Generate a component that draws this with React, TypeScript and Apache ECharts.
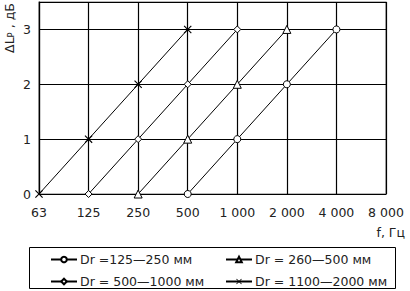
import React, { useEffect, useRef } from "react";
import * as echarts from "echarts";

const categories = ["63", "125", "250", "500", "1 000", "2 000", "4 000", "8 000"];
const s125_250 = [null, null, null, 0, 1, 2, 3, null];
const s260_500 = [null, null, 0, 1, 2, 3, null, null];
const s500_1000 = [null, 0, 1, 2, 3, null, null, null];
const s1100_2000 = [0, 1, 2, 3, null, null, null, null];
const yTicks = [0, 1, 2, 3];
const seriesNames = ["Dr =125—250 мм", "Dr = 260—500 мм", "Dr = 500—1000 мм", "Dr = 1100—2000 мм"];

const FONT = "DejaVu Sans";
const CROSS = "path://M0,1L1,0L10,9L9,10Z M9,0L10,1L1,10L0,9Z";

export default function App() {
  const ref = useRef<HTMLDivElement>(null);
  useEffect(() => {
    const chart = echarts.init(ref.current!, null, { renderer: "svg" });
    const lineStyle = { color: "#000", width: 1 };
    const mk = (name: string, data: any[], symbol: string, size: number, itemStyle: any) => ({
      name,
      type: "line",
      data,
      symbol,
      symbolSize: size,
      showAllSymbol: true,
      connectNulls: false,
      lineStyle,
      itemStyle,
      z: 5,
    });
    const open = { color: "#fff", borderColor: "#000", borderWidth: 1 };
    const legendText = { fontSize: 12.5, color: "#222", fontFamily: FONT, padding: [0, 0, 0, -2] };
    chart.setOption({
      animation: false,
      textStyle: { fontFamily: FONT },
      grid: { left: 39, right: 24, top: 2, bottom: 97, show: true, borderColor: "#777", borderWidth: 1.2 },
      xAxis: {
        type: "category",
        data: categories,
        boundaryGap: false,
        axisLine: { lineStyle: { color: "#000", width: 1.2 } },
        axisTick: { show: false },
        axisLabel: { color: "#222", fontSize: 12.5, margin: 12, fontFamily: FONT },
        splitLine: { show: true, lineStyle: { color: "#000", width: 1.2 } },
      },
      yAxis: {
        type: "value",
        min: 0,
        max: 3.5,
        interval: 1,
        axisLine: { show: true, lineStyle: { color: "#000", width: 1.2 } },
        axisTick: { show: false },
        axisLabel: {
          color: "#222",
          fontSize: 12.5,
          margin: 8,
          fontFamily: FONT,
          formatter: (v: number) => (yTicks.includes(v) ? String(v) : ""),
        },
        splitLine: { show: true, lineStyle: { color: "#000", width: 1.2 } },
      },
      legend: [
        {
          data: [seriesNames[0], seriesNames[2]],
          orient: "vertical",
          left: 50,
          top: 253,
          itemWidth: 26,
          itemHeight: 7,
          itemGap: 9,
          textStyle: legendText,
          padding: 0,
        },
        {
          data: [seriesNames[1], seriesNames[3]],
          orient: "vertical",
          left: 225,
          top: 253,
          itemWidth: 26,
          itemHeight: 7,
          itemGap: 9,
          textStyle: legendText,
          padding: 0,
        },
      ],
      graphic: [
        {
          type: "rect",
          shape: { x: 29.5, y: 247.5, width: 366, height: 41 },
          style: { fill: "none", stroke: "#000", lineWidth: 1 },
        },
        {
          type: "text",
          x: 405,
          y: 232,
          style: { text: "f, Гц", fill: "#222", font: `12.5px ${FONT}`, textAlign: "right", textVerticalAlign: "middle" },
        },
        {
          type: "text",
          x: 9,
          y: 28,
          rotation: Math.PI / 2,
          style: {
            text: "{a|ΔL}{b|P}{a| , дБ}",
            textAlign: "center",
            textVerticalAlign: "middle",
            rich: {
              a: { fontSize: 12.5, fill: "#222", fontFamily: FONT },
              b: { fontSize: 8.5, fill: "#222", fontFamily: FONT, verticalAlign: "bottom", padding: [4, 0, 0, 0] },
            },
          },
        },
      ],
      series: [
        mk(seriesNames[0], s125_250, "circle", 7, open),
        mk(seriesNames[1], s260_500, "triangle", 8, open),
        mk(seriesNames[2], s500_1000, "diamond", 7, open),
        mk(seriesNames[3], s1100_2000, CROSS, 8, { color: "#000", borderWidth: 0 }),
      ],
    });
    return () => chart.dispose();
  }, []);
  return <div ref={ref} style={{ width: 410, height: 291, position: "absolute", left: 0, top: 0 }} />;
}
